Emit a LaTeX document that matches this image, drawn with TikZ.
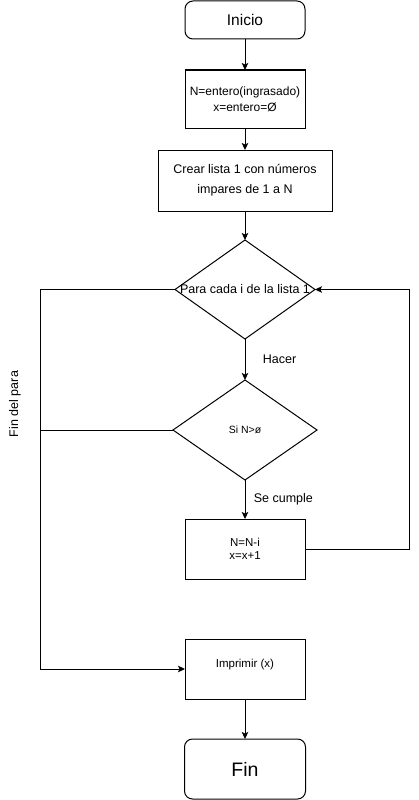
\documentclass[tikz,border=0pt]{standalone}
\usepackage{fontspec}
\setmainfont{Liberation Sans}
\usepackage{tikz}
\usetikzlibrary{positioning, shapes.geometric, arrows.meta}

\begin{document}
\begin{tikzpicture}[
            x=1pt, y=1pt,
            caja/.style={rectangle, draw, line width=1pt, outer sep=0pt, minimum width=120pt, align=center},
            terminal/.style={caja, rounded corners=8pt, minimum height=60pt},
            decision/.style={diamond, draw, line width=1pt, outer sep=0pt, inner sep=0pt},
            texto/.style={font=\fontsize{12.5}{16}\selectfont},
            textochico/.style={font=\fontsize{11.5}{13}\selectfont},
            flecha/.style={draw, line width=1pt, -{Stealth[length=7pt, width=6.5pt, inset=1.5pt]}},
            linea/.style={draw, line width=1pt},
        ]
            \useasboundingbox (0,0) rectangle (418,-800);
            \node[terminal, minimum height=38pt, font=\fontsize{15.5}{18}\selectfont] (inicio) at (245,-20) {Inicio};
            \node[caja, font=\fontsize{12}{16}\selectfont, minimum height=58pt, below=31pt of inicio] (datos) {N=entero(ingrasado)\\x=entero=Ø};
            \node[caja, font=\fontsize{12.5}{20}\selectfont, minimum width=174pt, minimum height=61pt, below=22pt of datos] (lista) {Crear lista 1 con números\\impares de 1 a N};
            \node[decision, minimum width=140pt, minimum height=99pt, below=29pt of lista,
                label={[texto, name=paratexto]center:Para cada i de la lista 1}] (para) {};
            \node[decision, minimum width=144pt, minimum height=100pt, below=41pt of para,
                label={[font=\fontsize{10.5}{12}\selectfont, name=sitexto]center:Si N>ø}] (si) {};
            \node[caja, textochico, minimum height=60pt, below=39pt of si] (resta) {N=N-i\\x=x+1};
            \node[caja, textochico, minimum height=60pt, text depth=12pt, below=60pt of resta] (imprimir) {Imprimir (x)};
            \node[terminal, minimum width=121pt, font=\fontsize{19.5}{22}\selectfont, below=40pt of imprimir] (fin) {Fin};
            \node[texto, rotate=90] (finpara) at (15,-404) {Fin del para};
            \coordinate (izq) at (40,0);
            \coordinate (der) at (409,0);

            \draw[flecha] (inicio) -- (datos);
            \draw[flecha] (datos) -- (lista);
            \draw[flecha] (lista) -- (para);
            \draw[flecha] (para) -- node[texto, midway, right, xshift=14pt] (hacer) {Hacer} (si);
            \draw[flecha] (si) -- node[texto, midway, right, xshift=5pt] (secumple) {Se cumple} (resta);
            \draw[flecha] (resta.east) -- (resta.east -| der) |- (para.east);
            \draw[flecha] (para.west) -- (para.west -| izq) |- (imprimir.west);
            \draw[linea] (si.west) -- (si.west -| izq);
            \draw[flecha] (imprimir) -- (fin);
        \end{tikzpicture}
\end{document}
